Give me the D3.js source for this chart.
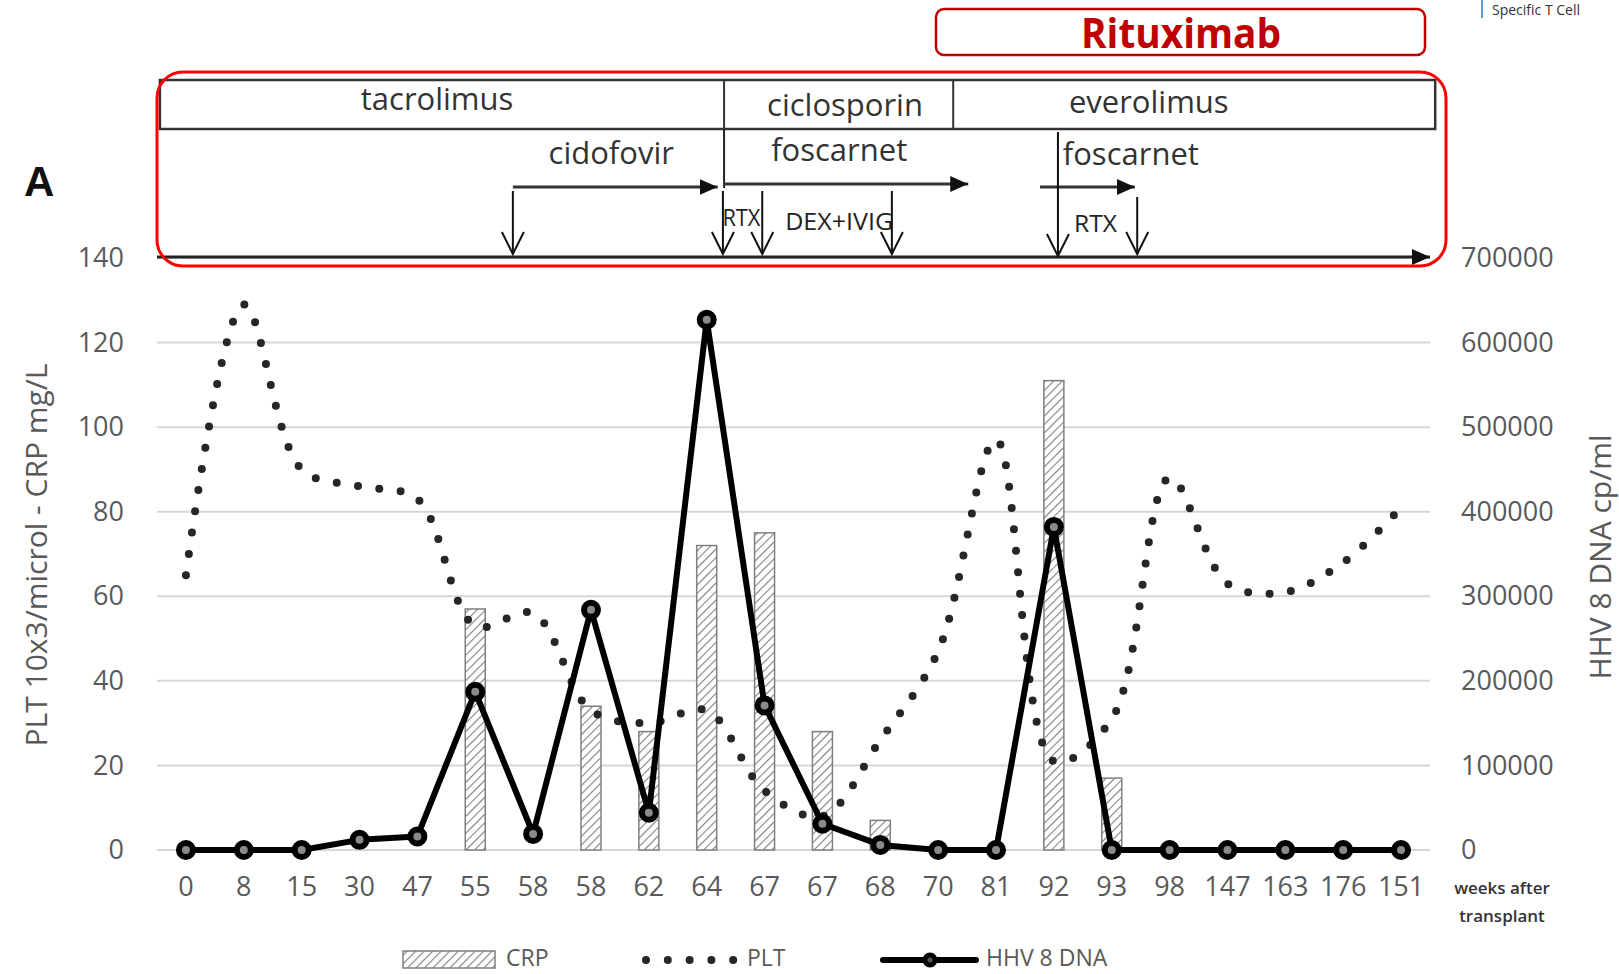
<!DOCTYPE html>
<html>
<head>
<meta charset="utf-8">
<script src="https://cdn.jsdelivr.net/npm/d3@7"></script>
<style>
  html, body { margin: 0; background: #fff; }
  svg { display: block; font-family: "Open Sans", sans-serif; }
</style>
</head>
<body>
<svg id="chart" width="1619" height="974"></svg>
<script>
"use strict";

// x categories (weeks after transplant, as printed)
const weeks = ["0", "8", "15", "30", "47", "55", "58", "58", "62", "64", "67", "67", "68", "70", "81", "92", "93", "98", "147", "163", "176", "151"];
// CRP mg/L (bars, left axis)
const crp = [0, 0, 0, 0, 0, 57, 0, 34, 28, 72, 75, 28, 7, 0, 0, 111, 17, 0, 0, 0, 0, 0];
// PLT 10x3/microl (dotted smooth line, left axis)
const plt = [65, 129, 90, 86, 83, 53, 56, 33, 30, 33, 14, 8, 26, 47, 97, 21, 31, 88, 63, 61, 68, 81];
// HHV 8 DNA cp/ml (line with markers, right axis)
const hhv = [0, 0, 0, 12000, 16000, 187000, 19000, 284000, 44000, 627000, 171000, 31000, 6000, 0, 0, 382000, 0, 0, 0, 0, 0, 0];

const leftTicks = [0, 20, 40, 60, 80, 100, 120, 140];
const rightTicks = [0, 100000, 200000, 300000, 400000, 500000, 600000, 700000];

// treatment annotations, positions in category-index units
const drugs = [
  { name: "tacrolimus", from: -0.45, to: 9.3, at: 4.34 },
  { name: "ciclosporin", from: 9.3, to: 13.26, at: 11.39 },
  { name: "everolimus", from: 13.26, to: 21.59, at: 16.64 },
];
const courses = [
  { name: "cidofovir", from: 5.65, to: 9.19, label: 7.35 },
  { name: "foscarnet", from: 9.3, to: 13.52, label: 11.29 },
  { name: "foscarnet", from: 14.76, to: 16.4, label: 16.33 },
];
const doses = [5.65, 9.28, 9.96, 12.2, 16.44];
const doseLabels = [
  { name: "RTX", at: 9.6, len: 38 },
  { name: "DEX+IVIG", at: 11.29, len: 108 },
  { name: "RTX", at: 15.72, len: 43 },
];

const svg = d3.select("#chart");
const plotLeft = 157, plotRight = 1430, plotTop = 258, plotBottom = 850;

const x = d3.scaleBand().domain(d3.range(weeks.length)).range([plotLeft, plotRight]);
const cx = (i) => x(i) + x.bandwidth() / 2;
const tx = d3.scaleLinear().domain([0, weeks.length - 1]).range([cx(0), cx(weeks.length - 1)]);
const yL = d3.scaleLinear().domain([0, 140]).range([plotBottom, plotTop]);
const yR = d3.scaleLinear().domain([0, 700000]).range([plotBottom, plotTop]);

// patterns and markers
const defs = svg.append("defs");
const hatch = defs.append("pattern")
  .attr("id", "hatch")
  .attr("patternUnits", "userSpaceOnUse")
  .attr("width", 6).attr("height", 6)
  .attr("patternTransform", "rotate(45)");
hatch.append("rect").attr("width", 6).attr("height", 6).attr("fill", "#fff");
hatch.append("line").attr("x1", 0).attr("y1", 0).attr("x2", 0).attr("y2", 6)
  .attr("stroke", "#808080").attr("stroke-width", 2.2);

defs.append("marker")
  .attr("id", "head")
  .attr("markerUnits", "userSpaceOnUse")
  .attr("viewBox", "0 0 18 18")
  .attr("refX", 18).attr("refY", 9)
  .attr("markerWidth", 18).attr("markerHeight", 18)
  .attr("orient", "auto")
  .append("path").attr("d", "M0,1 L18,9 L0,17 Z").attr("fill", "#111");

// gridlines
svg.append("g")
  .selectAll("line")
  .data(leftTicks)
  .join("line")
  .attr("x1", plotLeft).attr("x2", plotRight)
  .attr("y1", (d) => yL(d)).attr("y2", (d) => yL(d))
  .attr("stroke", "#d6d6d6").attr("stroke-width", 2);

// axes
const axL = svg.append("g")
  .attr("transform", `translate(${plotLeft},0)`)
  .call(d3.axisLeft(yL).tickValues(leftTicks).tickSize(0).tickPadding(33));
const axR = svg.append("g")
  .attr("transform", `translate(${plotRight},0)`)
  .call(d3.axisRight(yR).tickValues(rightTicks).tickSize(0).tickPadding(31).tickFormat(d3.format("d")));
const axB = svg.append("g")
  .attr("transform", `translate(0,${plotBottom})`)
  .call(d3.axisBottom(x).tickSize(0).tickPadding(27).tickFormat((i) => weeks[i]));
[axL, axR, axB].forEach((g) => {
  g.select(".domain").remove();
  g.selectAll("text").attr("font-size", 27).attr("fill", "#595959").attr("font-family", "Open Sans");
});

// axis titles
svg.append("text")
  .attr("transform", "translate(47,555) rotate(-90)")
  .attr("text-anchor", "middle")
  .attr("font-size", 30).attr("fill", "#595959")
  .text("PLT 10x3/microl - CRP mg/L");
svg.append("text")
  .attr("transform", "translate(1611,557) rotate(-90)")
  .attr("text-anchor", "middle")
  .attr("font-size", 30).attr("fill", "#595959")
  .text("HHV 8 DNA cp/ml");
svg.append("text")
  .attr("x", 1502).attr("y", 894)
  .attr("text-anchor", "middle")
  .attr("font-size", 17).attr("font-weight", 600).attr("fill", "#333")
  .text("weeks after");
svg.append("text")
  .attr("x", 1502).attr("y", 922)
  .attr("text-anchor", "middle")
  .attr("font-size", 17).attr("font-weight", 600).attr("fill", "#333")
  .text("transplant");

// CRP bars
const barW = 20;
svg.append("g")
  .selectAll("rect")
  .data(crp.map((v, i) => ({ v, i })).filter((d) => d.v > 0))
  .join("rect")
  .attr("x", (d) => cx(d.i) - barW / 2)
  .attr("y", (d) => yL(d.v))
  .attr("width", barW)
  .attr("height", (d) => yL(0) - yL(d.v))
  .attr("fill", "url(#hatch)")
  .attr("stroke", "#7f7f7f")
  .attr("stroke-width", 1.5);

// PLT dotted smooth line
const pltLine = d3.line()
  .x((d, i) => cx(i))
  .y((d) => yL(d))
  .curve(d3.curveCatmullRom.alpha(0.5));
svg.append("path")
  .datum(plt)
  .attr("d", pltLine)
  .attr("fill", "none")
  .attr("stroke", "#262626")
  .attr("stroke-width", 8)
  .attr("stroke-linecap", "round")
  .attr("stroke-dasharray", "0 21.5");

// HHV 8 DNA line
const hhvLine = d3.line().x((d, i) => cx(i)).y((d) => yR(d));
svg.append("path")
  .datum(hhv)
  .attr("d", hhvLine)
  .attr("fill", "none")
  .attr("stroke", "#000")
  .attr("stroke-width", 6)
  .attr("stroke-linejoin", "round");
svg.append("g")
  .selectAll("circle")
  .data(hhv)
  .join("circle")
  .attr("cx", (d, i) => cx(i))
  .attr("cy", (d) => yR(d))
  .attr("r", 7)
  .attr("fill", "#8a8a8a")
  .attr("stroke", "#000")
  .attr("stroke-width", 6);

// ---- treatment annotations ----
const ann = svg.append("g").attr("fill", "none");

// timeline arrow on the top gridline
ann.append("line")
  .attr("x1", plotLeft).attr("x2", plotRight)
  .attr("y1", plotTop - 1).attr("y2", plotTop - 1)
  .attr("stroke", "#222").attr("stroke-width", 3)
  .attr("marker-end", "url(#head)");

// drug table
const tabTop = 80, tabBot = 129;
ann.append("rect")
  .attr("x", tx(drugs[0].from)).attr("y", tabTop)
  .attr("width", tx(drugs[drugs.length - 1].to) - tx(drugs[0].from))
  .attr("height", tabBot - tabTop)
  .attr("stroke", "#333").attr("stroke-width", 2.5);
ann.selectAll(".div")
  .data(drugs.slice(1))
  .join("line")
  .attr("x1", (d) => tx(d.from)).attr("x2", (d) => tx(d.from))
  .attr("y1", tabTop).attr("y2", tabBot)
  .attr("stroke", "#333").attr("stroke-width", 2);
ann.selectAll(".drug")
  .data(drugs)
  .join("text")
  .attr("x", (d) => tx(d.at))
  .attr("y", (d, i) => [110, 116, 113][i])
  .attr("text-anchor", "middle")
  .attr("font-size", 31).attr("fill", "#333")
  .text((d) => d.name);

// continuation of the divider below the table
ann.append("line")
  .attr("x1", tx(9.3)).attr("x2", tx(9.3))
  .attr("y1", tabBot).attr("y2", 188)
  .attr("stroke", "#222").attr("stroke-width", 2);

// antiviral courses
const courseY = [187, 184, 187];
ann.selectAll(".course")
  .data(courses)
  .join("line")
  .attr("x1", (d) => tx(d.from)).attr("x2", (d) => tx(d.to))
  .attr("y1", (d, i) => courseY[i]).attr("y2", (d, i) => courseY[i])
  .attr("stroke", "#333").attr("stroke-width", 3)
  .attr("marker-end", "url(#head)");
ann.selectAll(".courseLabel")
  .data(courses)
  .join("text")
  .attr("x", (d) => tx(d.label))
  .attr("y", (d, i) => [164, 161, 165][i])
  .attr("text-anchor", "middle")
  .attr("font-size", 31).attr("fill", "#333")
  .text((d) => d.name);

// dose arrows (open heads)
const doseTop = [191, 191, 191, 191, 197];
doses.forEach((d, i) => {
  const px = tx(d);
  ann.append("line")
    .attr("x1", px).attr("x2", px)
    .attr("y1", doseTop[i]).attr("y2", 254)
    .attr("stroke", "#111").attr("stroke-width", 2);
  ann.append("path")
    .attr("d", `M${px - 11},${232} L${px},${254} L${px + 11},${232}`)
    .attr("stroke", "#111").attr("stroke-width", 2);
});
// second foscarnet start: long line from the table
{
  const px = tx(15.07);
  ann.append("line")
    .attr("x1", px).attr("x2", px)
    .attr("y1", 132).attr("y2", 256)
    .attr("stroke", "#111").attr("stroke-width", 2);
  ann.append("path")
    .attr("d", `M${px - 11},${234} L${px},${256} L${px + 11},${234}`)
    .attr("stroke", "#111").attr("stroke-width", 2);
}
ann.selectAll(".doseLabel")
  .data(doseLabels)
  .join("text")
  .attr("x", (d) => tx(d.at))
  .attr("y", (d, i) => [226, 230, 232][i])
  .attr("text-anchor", "middle")
  .attr("font-size", 24).attr("fill", "#222")
  .attr("textLength", (d) => d.len)
  .attr("lengthAdjust", "spacingAndGlyphs")
  .text((d) => d.name);

// red outline around the treatment panel
svg.append("rect")
  .attr("x", 157).attr("y", 72)
  .attr("width", 1289).attr("height", 194)
  .attr("rx", 26)
  .attr("fill", "none").attr("stroke", "#ff0000").attr("stroke-width", 3);

// Rituximab box
svg.append("rect")
  .attr("x", 936).attr("y", 9)
  .attr("width", 489).attr("height", 46)
  .attr("rx", 8)
  .attr("fill", "none").attr("stroke", "#c00000").attr("stroke-width", 2.5);
svg.append("text")
  .attr("x", 1181).attr("y", 48)
  .attr("text-anchor", "middle")
  .attr("font-size", 42).attr("font-weight", 700).attr("fill", "#c00000")
  .attr("textLength", 200).attr("lengthAdjust", "spacingAndGlyphs")
  .text("Rituximab");

// panel letter
svg.append("text")
  .attr("x", 24).attr("y", 196)
  .attr("font-family", "Liberation Sans").attr("font-weight", 700)
  .attr("font-size", 42).attr("fill", "#111")
  .text("A");

// header fragment at top right
svg.append("line")
  .attr("x1", 1482).attr("x2", 1482).attr("y1", 0).attr("y2", 18)
  .attr("stroke", "#5b9bd5").attr("stroke-width", 2);
svg.append("text")
  .attr("x", 1492).attr("y", 15)
  .attr("font-size", 14).attr("fill", "#333")
  .text("Specific T Cell");

// legend
const lg = svg.append("g");
lg.append("rect")
  .attr("x", 403).attr("y", 951).attr("width", 92).attr("height", 17)
  .attr("fill", "url(#hatch)").attr("stroke", "#7f7f7f").attr("stroke-width", 1.5);
lg.append("text").attr("x", 506).attr("y", 966).text("CRP");
lg.selectAll(".pltdot")
  .data(d3.range(5))
  .join("circle")
  .attr("cx", (d) => 646 + d * 21.8).attr("cy", 960).attr("r", 4)
  .attr("fill", "#262626");
lg.append("text").attr("x", 747).attr("y", 966).text("PLT");
lg.append("line")
  .attr("x1", 883).attr("x2", 976).attr("y1", 960).attr("y2", 960)
  .attr("stroke", "#000").attr("stroke-width", 6).attr("stroke-linecap", "round");
lg.append("circle").attr("cx", 930).attr("cy", 960).attr("r", 5)
  .attr("fill", "#555").attr("stroke", "#000").attr("stroke-width", 5);
lg.append("text").attr("x", 986).attr("y", 966).text("HHV 8 DNA");
lg.selectAll("text").attr("font-size", 23).attr("fill", "#595959");
</script>
</body>
</html>
